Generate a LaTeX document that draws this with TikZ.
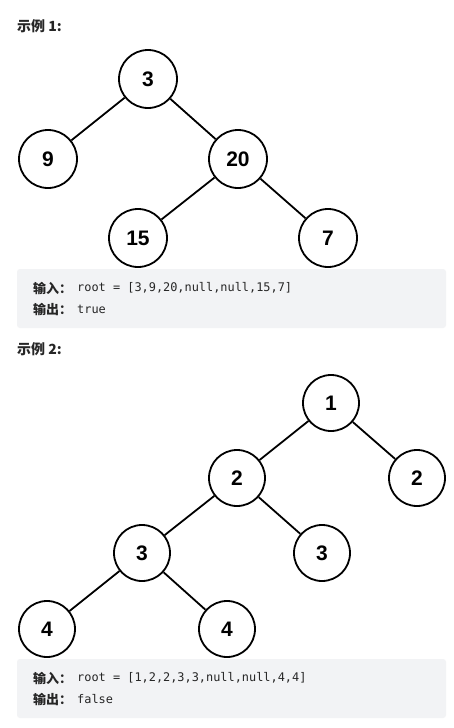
\documentclass[tikz,border=0pt]{standalone}
\usepackage{fontspec}
\newfontfamily\cjk{Noto Sans CJK SC}
\newfontfamily\numf{Liberation Sans}
\newfontfamily\monof{DejaVu Sans Mono}
\definecolor{boxgray}{HTML}{F2F3F5}
\definecolor{txt}{HTML}{262626}
\begin{document}
\begin{tikzpicture}[x=1pt,y=-1pt,
  tnode/.style={circle,draw=black,line width=1.8pt,inner sep=0pt,font=\numf\bfseries\fontsize{21}{24}\selectfont},
  bignode/.style={tnode,minimum size=58pt},
  smallnode/.style={tnode,minimum size=56pt},
  edge/.style={draw=black,line width=1.8pt},
  heading/.style={anchor=west,inner sep=0pt,text=txt,font=\cjk\bfseries\fontsize{14}{16}\selectfont},
  lab/.style={anchor=west,inner sep=0pt,text=txt,font=\cjk\bfseries\fontsize{13}{15}\selectfont},
  code/.style={anchor=west,inner sep=0pt,text=txt,font=\monof\fontsize{11.9}{14}\selectfont},
  panel/.style={fill=boxgray,rounded corners=3pt}]
\useasboundingbox[fill=white] (0,0) rectangle (454,728);

% Example 1
\node[heading] (h1) at (17,26) {示例 1:};
\node[bignode] (a3) at (148,79) {3};
\node[bignode] (a9) at (48,159) {9};
\node[bignode] (a20) at (238,159) {20};
\node[bignode] (a15) at (138,238) {15};
\node[bignode] (a7) at (328,238) {7};
\draw[edge] (a3) -- (a9);
\draw[edge] (a3) -- (a20);
\draw[edge] (a20) -- (a15);
\draw[edge] (a20) -- (a7);
\fill[panel] (17,269) rectangle (446,328);
\node[lab] (in1) at (33,288) {输入：};
\node[code] (c1) at (77,288) {root = [3,9,20,null,null,15,7]};
\node[lab] (out1) at (33,309) {输出：};
\node[code] (d1) at (77,309) {true};

% Example 2
\node[heading] (h2) at (17,349) {示例 2:};
\node[smallnode] (b1) at (331,403) {1};
\node[smallnode] (b2l) at (237,478) {2};
\node[smallnode] (b2r) at (417,478) {2};
\node[smallnode] (b3l) at (142,553) {3};
\node[smallnode] (b3r) at (322,553) {3};
\node[smallnode] (b4l) at (47,629) {4};
\node[smallnode] (b4r) at (227,629) {4};
\draw[edge] (b1) -- (b2l);
\draw[edge] (b1) -- (b2r);
\draw[edge] (b2l) -- (b3l);
\draw[edge] (b2l) -- (b3r);
\draw[edge] (b3l) -- (b4l);
\draw[edge] (b3l) -- (b4r);
\fill[panel] (17,659) rectangle (446,718);
\node[lab] (in2) at (33,678) {输入：};
\node[code] (c2) at (77,678) {root = [1,2,2,3,3,null,null,4,4]};
\node[lab] (out2) at (33,699) {输出：};
\node[code] (d2) at (77,699) {false};
\end{tikzpicture}
\end{document}
